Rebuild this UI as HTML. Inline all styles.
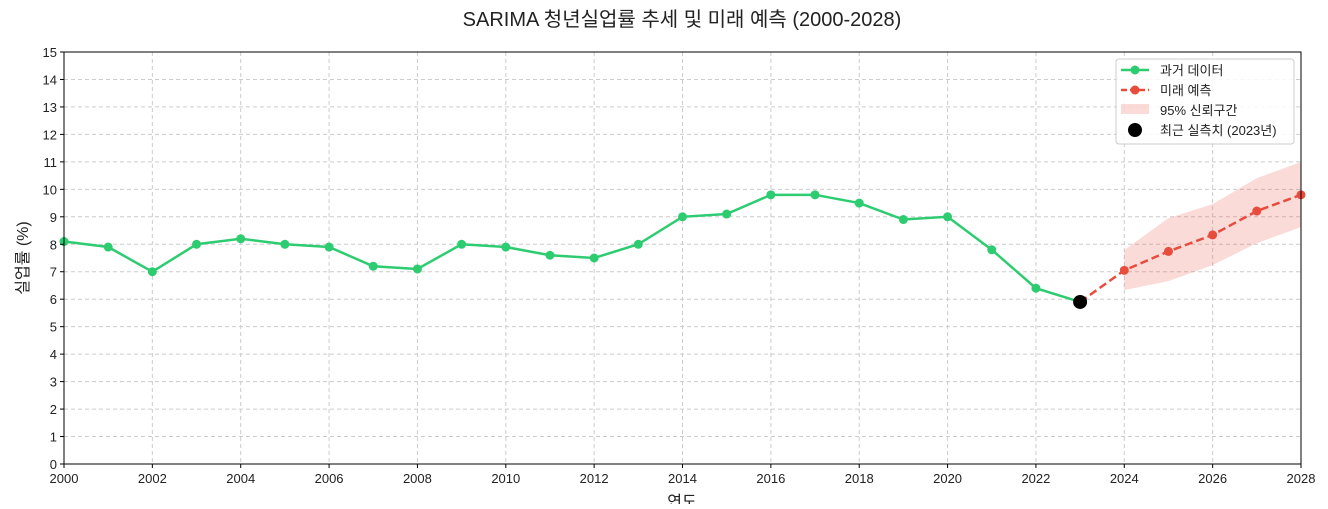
<!DOCTYPE html>
<html><head><meta charset="utf-8"><style>
body{margin:0;background:#fff;}
svg text{font-family:"Liberation Sans","Noto Sans CJK KR",sans-serif;}
</style></head><body>
<svg id="chart" width="1328" height="504" xmlns="http://www.w3.org/2000/svg">
<text x="682" y="26" text-anchor="middle" font-size="20" fill="#222">SARIMA 청년실업률 추세 및 미래 예측 (2000-2028)</text>
<g id="grid"></g><g id="ci"></g><g id="lines"></g><g id="axes"></g>
<text x="682" y="507" text-anchor="middle" font-size="16" fill="#222">연도</text>
<text transform="translate(28,258) rotate(-90)" text-anchor="middle" font-size="16" fill="#222">실업률 (%)</text>
<g>
<rect x="1116" y="59" width="178" height="85" rx="3" fill="#fff" fill-opacity="0.85" stroke="#ccc"/>
<line x1="1121" y1="70" x2="1149" y2="70" stroke="#2ecc71" stroke-width="2.5"/><circle cx="1135" cy="70" r="4.5" fill="#2ecc71"/>
<text x="1160" y="75" font-size="13" fill="#222">과거 데이터</text>
<line x1="1121" y1="90" x2="1149" y2="90" stroke="#e74c3c" stroke-width="2.5" stroke-dasharray="6,3"/><circle cx="1135" cy="90" r="4.5" fill="#e74c3c"/>
<text x="1160" y="95" font-size="13" fill="#222">미래 예측</text>
<rect x="1121" y="104" width="28" height="10" fill="#e74c3c" fill-opacity="0.2"/>
<text x="1160" y="115" font-size="13" fill="#222">95% 신뢰구간</text>
<circle cx="1135" cy="130" r="7" fill="#000"/>
<text x="1160" y="135" font-size="13" fill="#222">최근 실측치 (2023년)</text>
</g>
</svg>
<script>
const histYears=[2000,2001,2002,2003,2004,2005,2006,2007,2008,2009,2010,2011,2012,2013,2014,2015,2016,2017,2018,2019,2020,2021,2022,2023];
const histValues=[8.1,7.9,7.0,8.0,8.2,8.0,7.9,7.2,7.1,8.0,7.9,7.6,7.5,8.0,9.0,9.1,9.8,9.8,9.5,8.9,9.0,7.8,6.4,5.9];
const fcYears=[2023,2024,2025,2026,2027,2028];
const fcValues=[5.9,7.05,7.74,8.34,9.21,9.8];
const ciYears=[2024,2025,2026,2027,2028];
const ciLower=[6.33,6.66,7.24,8.04,8.63];
const ciUpper=[7.79,8.95,9.46,10.41,10.99];
const xTicks=[2000,2002,2004,2006,2008,2010,2012,2014,2016,2018,2020,2022,2024,2026,2028];
const yTicks=[0,1,2,3,4,5,6,7,8,9,10,11,12,13,14,15];
const X0=64,X1=1301,Y0=464,Y1=52;
const xs=v=>X0+(v-2000)/28*(X1-X0);
const ys=v=>Y0-v/15*(Y0-Y1);
const NS="http://www.w3.org/2000/svg";
function mk(parent,tag,attrs){const e=document.createElementNS(NS,tag);for(const k in attrs)e.setAttribute(k,attrs[k]);document.getElementById(parent).appendChild(e);return e;}
xTicks.forEach(t=>{const l=mk('grid','line',{x1:xs(t),x2:xs(t),y1:Y1,y2:Y0,stroke:'#ccc','stroke-dasharray':'4,3'});


const tx=mk('axes','text',{x:xs(t),y:Y0+19,'text-anchor':'middle','font-size':13,fill:'#222'});tx.textContent=t;


mk('axes','line',{x1:xs(t),x2:xs(t),y1:Y0,y2:Y0+4,stroke:'#000'});});
yTicks.forEach(t=>{const l=mk('grid','line',{x1:X0,x2:X1,y1:ys(t),y2:ys(t),stroke:'#ccc','stroke-dasharray':'4,3'});


const tx=mk('axes','text',{x:X0-7,y:ys(t)+5,'text-anchor':'end','font-size':13,fill:'#222'});tx.textContent=t;


mk('axes','line',{x1:X0-4,x2:X0,y1:ys(t),y2:ys(t),stroke:'#000'});});
const frame=mk('axes','rect',{x:X0,y:Y1,width:X1-X0,height:Y0-Y1,fill:'none',stroke:'#000'});


let d=ciYears.map((y,i)=>(i?'L':'M')+xs(y)+','+ys(ciUpper[i])).join('');
for(let i=ciYears.length-1;i>=0;i--)d+='L'+xs(ciYears[i])+','+ys(ciLower[i]);
const band=mk('ci','path',{d:d+'Z',fill:'#e74c3c','fill-opacity':0.2});


const h=mk('lines','polyline',{points:histYears.map((y,i)=>xs(y)+','+ys(histValues[i])).join(' '),fill:'none',stroke:'#2ecc71','stroke-width':2.5});


histYears.forEach((y,i)=>{const c=mk('lines','circle',{cx:xs(y),cy:ys(histValues[i]),r:4.5,fill:'#2ecc71'});

});
const f=mk('lines','polyline',{points:fcYears.map((y,i)=>xs(y)+','+ys(fcValues[i])).join(' '),fill:'none',stroke:'#e74c3c','stroke-width':2.5,'stroke-dasharray':'8,4'});


fcYears.forEach((y,i)=>{const c=mk('lines','circle',{cx:xs(y),cy:ys(fcValues[i]),r:4.5,fill:'#e74c3c'});

});
const li=histYears.length-1;
const last=mk('lines','circle',{cx:xs(histYears[li]),cy:ys(histValues[li]),r:7,fill:'#000'});


</script>
</body></html>
